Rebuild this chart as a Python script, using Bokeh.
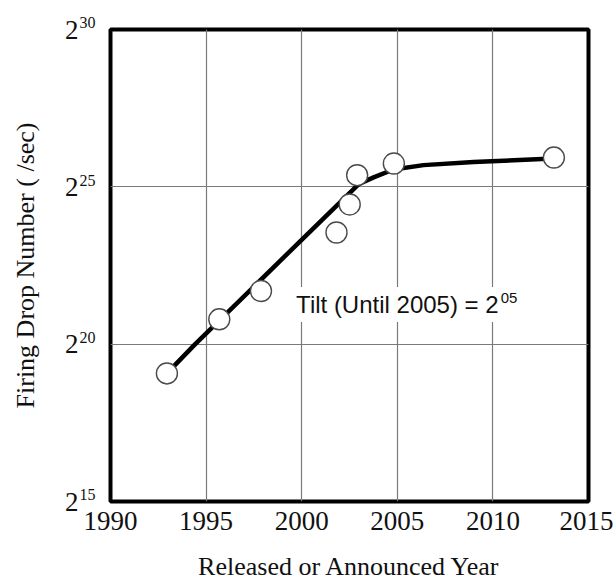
from bokeh.plotting import figure
from bokeh.models import FixedTicker, Label, Range1d, LinearAxis
from bokeh.embed import file_html
from bokeh.resources import INLINE

# Measured devices: release year and log2 of firing drop number (/sec)
years = [1992.95, 1995.69, 1997.87, 2001.82, 2002.51, 2002.90, 2004.82, 2013.19]
log2_drops = [19.07, 20.79, 21.69, 23.55, 24.44, 25.37, 25.74, 25.93]

# Hand-drawn trend curve
trend_years = [1992.95, 1994.43, 1999.97, 2002.97, 2003.76, 2004.80, 2006.37, 2008.99, 2013.17]
trend_log2 = [19.07, 20.0, 23.30, 25.08, 25.30, 25.55, 25.69, 25.79, 25.90]

x_ticks = [1990, 1995, 2000, 2005, 2010, 2015]
y_ticks = [15, 20, 25, 30]
y_tick_base = {15: "2", 20: "2", 25: "2", 30: "2"}
y_tick_exponents = {15: "15", 20: "20", 25: "25", 30: "30"}

SERIF = "Liberation Serif"
SANS = "Liberation Sans"

p = figure(
    width=613, height=580,
    frame_width=478, frame_height=472,
    x_range=Range1d(1990, 2015), y_range=Range1d(15, 30),
    output_backend="svg", toolbar_location=None,
    min_border_left=110, min_border_top=29, min_border_right=25, min_border_bottom=79,
)
p.background_fill_color = "white"
p.border_fill_color = "white"
p.outline_line_color = "black"
p.outline_line_width = 4

# grid
p.xgrid.ticker = FixedTicker(ticks=x_ticks)
p.ygrid.ticker = FixedTicker(ticks=y_ticks)
for g in (p.xgrid, p.ygrid):
    g.grid_line_color = "#7a7a7a"
    g.grid_line_width = 1.2

# outer y axis showing the base "2" of each tick label
base_axis = LinearAxis(ticker=FixedTicker(ticks=y_ticks))
p.add_layout(base_axis, "left")


def style(ax):
    ax.axis_line_color = None
    ax.major_tick_line_color = None
    ax.minor_tick_line_color = None
    ax.major_tick_in = 0
    ax.major_tick_out = 0
    ax.minor_tick_in = 0
    ax.minor_tick_out = 0
    ax.major_label_text_font = SERIF
    ax.major_label_text_font_size = "27px"
    ax.major_label_text_color = "#111111"
    ax.axis_label_text_font = SERIF
    ax.axis_label_text_font_size = "26px"
    ax.axis_label_text_font_style = "normal"
    ax.axis_label_text_color = "#111111"


for ax in (p.xaxis[0], p.yaxis[0], base_axis):
    style(ax)

p.xaxis.ticker = FixedTicker(ticks=x_ticks)
p.xaxis.major_label_standoff = 10
p.xaxis.axis_label = "Released or Announced Year"
p.xaxis.axis_label_standoff = 19

# inner y axis: the exponents, raised as superscripts (empty second line lifts them)
exp_axis = p.yaxis[0]
exp_axis.ticker = FixedTicker(ticks=y_ticks)
exp_axis.major_label_overrides = {k: v + "\n" for k, v in y_tick_exponents.items()}
exp_axis.major_label_text_font_size = "16px"
exp_axis.major_label_text_line_height = 0.8
exp_axis.major_label_standoff = 15

base_axis.major_label_overrides = y_tick_base
base_axis.major_label_standoff = -2
base_axis.axis_label = "Firing Drop Number ( /sec)"
base_axis.axis_label_standoff = 22

# trend curve
p.line(trend_years, trend_log2, line_color="black", line_width=4.5,
       line_join="round", line_cap="round")

# data points
p.scatter(years, log2_drops, size=21, marker="circle", fill_color="white",
          line_color="#4a4a4a", line_width=1.4)

# annotation
main = Label(x=2010.3, y=21.26, x_offset=4, text="Tilt (Until 2005) = 2",
             text_font=SANS, text_font_size="24px", text_color="#111111",
             text_align="right", text_baseline="alphabetic",
             background_fill_color="white", padding=4)
sup = Label(x=2010.3, y=21.26, y_offset=7, x_offset=2, text="05",
            text_font=SANS, text_font_size="15px", text_color="#111111",
            text_align="left", text_baseline="alphabetic",
            background_fill_color="white", padding=0)
p.add_layout(main)
p.add_layout(sup)

open("out.html", "w").write(file_html(p, INLINE))
